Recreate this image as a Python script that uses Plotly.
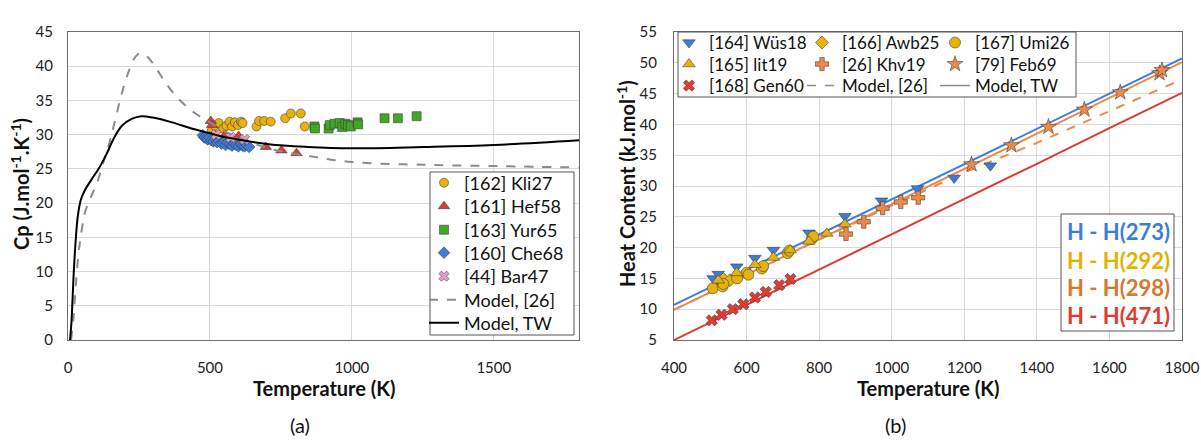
import plotly.graph_objects as go

W, H = 1201, 441
FONT = "Lato"

# ---------------- Panel (a) data ----------------
tw_T = [7, 12, 16, 20, 27, 34, 44, 57, 82, 109, 136, 163, 190, 224, 258, 299, 367, 435, 500, 571, 707, 844, 1000, 1252, 1500, 1800]
tw_cp = [0, 2.5, 5.9, 9.7, 14.5, 17.9, 20.3, 21.7, 23.4, 25.1, 27.2, 29.6, 31.3, 32.3, 32.7, 32.5, 31.8, 30.9, 30.2, 29.5, 28.6, 28.2, 28.0, 28.2, 28.5, 29.2]

m26_T = [11, 20, 27, 37, 48, 61, 82, 102, 122, 143, 163, 190, 218, 238, 256, 279, 306, 340, 381, 435, 500, 571, 707, 844, 1000, 1252, 1524, 1800]
m26_cp = [0, 3.5, 7.8, 12.6, 16.0, 18.8, 21.0, 22.9, 25.6, 28.4, 31.6, 36.1, 39.7, 41.4, 41.9, 41.4, 40.0, 37.8, 35.6, 33.5, 31.8, 30.1, 28.0, 26.9, 26.0, 25.6, 25.4, 25.2]

kli27_T = [506, 517, 531, 547, 558, 569, 578, 588, 599, 610, 615, 664, 673, 691, 714, 765, 785, 820, 834]
kli27_cp = [30.6, 31.3, 31.7, 30.9, 31.3, 31.9, 31.2, 31.8, 31.4, 31.9, 31.7, 31.2, 32.0, 32.0, 31.9, 32.4, 33.1, 33.1, 31.2]

hef58_T = [503, 507, 553, 601, 697, 752, 805]
hef58_cp = [32.0, 31.4, 29.9, 29.8, 28.2, 27.7, 27.3]

yur65_T = [868, 870, 918, 922, 939, 957, 966, 977, 986, 996, 1020, 1022, 1115, 1162, 1228]
yur65_cp = [31.2, 30.9, 30.9, 31.4, 31.6, 31.7, 31.1, 31.6, 31.4, 31.2, 31.8, 31.5, 32.4, 32.4, 32.7]

che68_T = [475, 480, 487, 492, 498, 505, 512, 518, 525, 532, 540, 548, 555, 562, 570, 578, 585, 592, 600, 608, 615, 622, 630, 638]
che68_cp = [29.9, 29.6, 29.5, 29.3, 29.6, 29.2, 29.0, 29.3, 28.9, 29.1, 28.7, 28.9, 28.5, 28.8, 28.6, 28.4, 28.7, 28.5, 28.3, 28.6, 28.4, 28.3, 28.5, 28.2]

bar47_T = [522, 573, 622]
bar47_cp = [30.0, 29.6, 29.3]

# ---------------- Panel (b) data ----------------
line_T = [400, 600, 800, 1000, 1200, 1400, 1600, 1800]
h273 = [10.7, 16.4, 22.1, 27.8, 33.5, 39.2, 44.9, 50.7]
h298 = [9.9, 15.6, 21.3, 27.1, 32.8, 38.5, 44.3, 50.1]
h298_m26 = [9.9, 15.6, 21.3, 26.8, 32.2, 37.0, 42.1, 47.3]
h471 = [5.0, 10.7, 16.5, 22.2, 27.9, 33.6, 39.4, 45.1]

wus18_T = [508, 522, 573, 623, 674, 772, 871, 972, 1071, 1172, 1272]
wus18_h = [15.0, 15.7, 16.9, 18.3, 19.6, 22.4, 25.1, 27.6, 29.6, 31.3, 33.3]

lit19_T = [522, 573, 623, 674, 720, 772, 821, 871]
lit19_h = [14.7, 15.9, 17.2, 18.4, 19.6, 21.0, 22.3, 23.8]

awb25_T = [536, 554]
awb25_h = [14.9, 14.7]

umi26_T = [507, 534, 536, 574, 600, 605, 642, 646, 713, 718, 779, 784]
umi26_h = [13.4, 13.7, 14.1, 15.0, 15.9, 15.6, 16.6, 17.0, 19.1, 19.5, 21.4, 21.8]

khv19_T = [874, 923, 975, 1025, 1073]
khv19_h = [22.2, 24.2, 26.4, 27.4, 28.1]

feb69_T = [1220, 1330, 1432, 1531, 1630, 1738, 1745]
feb69_h = [33.5, 36.6, 39.6, 42.4, 45.2, 48.3, 48.8]

gen60_T = [504, 531, 562, 591, 623, 653, 690, 721]
gen60_h = [8.2, 9.1, 10.0, 10.8, 11.9, 12.8, 13.9, 14.9]

box_labels = ["H - H(273)", "H - H(292)", "H - H(298)", "H - H(471)"]

# ---------------- colours ----------------
BLUE = "#3D7DD8"
GOLD = "#E8B10C"
ORANGE = "#EC8A48"
RED = "#DD3C33"
GREEN = "#3FA825"
PINK = "#E59AC9"
GRAY = "#8C8C8C"


def px_x(p):
    return p / W


def px_y(p):
    return 1 - p / H


fig = go.Figure()
legend_layout = {}
_leg_counter = [0]


def new_legend(text_x, center_y, size):
    """Single-entry legend whose text starts at text_x px and is centred at center_y px."""
    _leg_counter[0] += 1
    n = _leg_counter[0]
    lid = "legend" if n == 1 else "legend%d" % n
    legend_layout[lid] = dict(x=px_x(text_x - 40), y=px_y(center_y), xanchor="left", yanchor="middle",
                              bgcolor="rgba(0,0,0,0)", borderwidth=0, orientation="v",
                              font=dict(family=FONT, size=size, color="#111111"))
    return lid


def mk(color, symbol, size=9):
    return dict(color=color, symbol=symbol, size=size,
                line=dict(color="rgba(60,60,60,0.7)", width=0.8))


# ---- panel (a) traces (legend rows)
LA_X = 464
LA_Y = [183, 206.5, 230, 253, 276.5, 300, 323]
LA_SIZE = 18

fig.add_trace(go.Scatter(x=kli27_T, y=kli27_cp, mode="markers", name="[162] Kli27",
                         marker=mk(GOLD, "circle", 9), xaxis="x", yaxis="y",
                         legend=new_legend(LA_X, LA_Y[0], LA_SIZE)))
fig.add_trace(go.Scatter(x=hef58_T, y=hef58_cp, mode="markers", name="[161] Hef58",
                         marker=mk(RED, "triangle-up", 10), xaxis="x", yaxis="y",
                         legend=new_legend(LA_X, LA_Y[1], LA_SIZE)))
fig.add_trace(go.Scatter(x=yur65_T, y=yur65_cp, mode="markers", name="[163] Yur65",
                         marker=mk(GREEN, "square", 9), xaxis="x", yaxis="y",
                         legend=new_legend(LA_X, LA_Y[2], LA_SIZE)))
fig.add_trace(go.Scatter(x=che68_T, y=che68_cp, mode="markers", name="[160] Che68",
                         marker=mk(BLUE, "diamond", 9), xaxis="x", yaxis="y",
                         legend=new_legend(LA_X, LA_Y[3], LA_SIZE)))
fig.add_trace(go.Scatter(x=bar47_T, y=bar47_cp, mode="markers", name="[44] Bar47",
                         marker=mk(PINK, "x", 9), xaxis="x", yaxis="y",
                         legend=new_legend(LA_X, LA_Y[4], LA_SIZE)))
fig.add_trace(go.Scatter(x=m26_T, y=m26_cp, mode="lines", name="Model, [26]",
                         line=dict(color=GRAY, width=2, dash="dash", shape="spline"),
                         xaxis="x", yaxis="y", legend=new_legend(LA_X, LA_Y[5], LA_SIZE)))
fig.add_trace(go.Scatter(x=tw_T, y=tw_cp, mode="lines", name="Model, TW",
                         line=dict(color="black", width=2, shape="spline"),
                         xaxis="x", yaxis="y", legend=new_legend(LA_X, LA_Y[6], LA_SIZE)))

# ---- panel (b) lines
fig.add_trace(go.Scatter(x=line_T, y=h471, mode="lines", line=dict(color=RED, width=2),
                         showlegend=False, xaxis="x2", yaxis="y2"))
fig.add_trace(go.Scatter(x=line_T, y=h298_m26, mode="lines", line=dict(color=ORANGE, width=2, dash="dash"),
                         showlegend=False, xaxis="x2", yaxis="y2"))
fig.add_trace(go.Scatter(x=line_T, y=h273, mode="lines", line=dict(color=BLUE, width=2),
                         showlegend=False, xaxis="x2", yaxis="y2"))
fig.add_trace(go.Scatter(x=line_T, y=h298, mode="lines", line=dict(color=ORANGE, width=2),
                         showlegend=False, xaxis="x2", yaxis="y2"))

# ---- panel (b) markers (3 x 3 legend grid)
LB_X = [709, 842, 975]
LB_Y = [43, 64.5, 86]
LB_SIZE = 17

fig.add_trace(go.Scatter(x=wus18_T, y=wus18_h, mode="markers", name="[164] Wüs18",
                         marker=mk(BLUE, "triangle-down", 11), xaxis="x2", yaxis="y2",
                         legend=new_legend(LB_X[0], LB_Y[0], LB_SIZE)))
fig.add_trace(go.Scatter(x=awb25_T, y=awb25_h, mode="markers", name="[166] Awb25",
                         marker=mk(GOLD, "diamond", 10), xaxis="x2", yaxis="y2",
                         legend=new_legend(LB_X[1], LB_Y[0], LB_SIZE)))
fig.add_trace(go.Scatter(x=umi26_T, y=umi26_h, mode="markers", name="[167] Umi26",
                         marker=mk(GOLD, "circle", 11), xaxis="x2", yaxis="y2",
                         legend=new_legend(LB_X[2], LB_Y[0], LB_SIZE)))
fig.add_trace(go.Scatter(x=lit19_T, y=lit19_h, mode="markers", name="[165] lit19",
                         marker=mk(GOLD, "triangle-up", 11), xaxis="x2", yaxis="y2",
                         legend=new_legend(LB_X[0], LB_Y[1], LB_SIZE)))
fig.add_trace(go.Scatter(x=khv19_T, y=khv19_h, mode="markers", name="[26] Khv19",
                         marker=mk(ORANGE, "cross", 11), xaxis="x2", yaxis="y2",
                         legend=new_legend(LB_X[1], LB_Y[1], LB_SIZE)))
fig.add_trace(go.Scatter(x=feb69_T, y=feb69_h, mode="markers", name="[79] Feb69",
                         marker=mk(ORANGE, "star", 12), xaxis="x2", yaxis="y2",
                         legend=new_legend(LB_X[2], LB_Y[1], LB_SIZE)))
fig.add_trace(go.Scatter(x=gen60_T, y=gen60_h, mode="markers", name="[168] Gen60",
                         marker=mk(RED, "x", 10), xaxis="x2", yaxis="y2",
                         legend=new_legend(LB_X[0], LB_Y[2], LB_SIZE)))
fig.add_trace(go.Scatter(x=[None], y=[None], mode="lines", name="Model, [26]",
                         line=dict(color=GRAY, width=1.5, dash="dash"), xaxis="x2", yaxis="y2",
                         legend=new_legend(LB_X[1], LB_Y[2], LB_SIZE)))
fig.add_trace(go.Scatter(x=[None], y=[None], mode="lines", name="Model, TW",
                         line=dict(color=GRAY, width=1.5), xaxis="x2", yaxis="y2",
                         legend=new_legend(LB_X[2], LB_Y[2], LB_SIZE)))

GRID = "#D9D9D9"
FRAME = "#6E6E6E"
TICKF = dict(family=FONT, size=15, color="#222222")

axis_common = dict(showgrid=True, gridcolor=GRID, gridwidth=1, showline=True, linecolor=FRAME,
                   linewidth=1, mirror=True, zeroline=False, ticks="outside",
                   tickcolor="rgba(0,0,0,0)", tickfont=TICKF, automargin=False)

fig.update_layout(
    width=W, height=H, autosize=False,
    margin=dict(l=0, r=0, t=0, b=0, pad=0, autoexpand=False),
    paper_bgcolor="white", plot_bgcolor="white",
    font=dict(family=FONT, color="#111111"),
    xaxis=dict(domain=[px_x(68), px_x(579)], range=[0, 1800], tickvals=[0, 500, 1000, 1500],
               ticklen=14, anchor="y", **axis_common),
    yaxis=dict(domain=[px_y(340), px_y(32)], range=[0, 45], dtick=5, ticklen=11,
               anchor="x", **axis_common),
    xaxis2=dict(domain=[px_x(674), px_x(1182)], range=[400, 1800], dtick=200,
                ticklen=14, anchor="y2", **axis_common),
    yaxis2=dict(domain=[px_y(340), px_y(32)], range=[5, 55], dtick=5, ticklen=13,
                anchor="x2", **axis_common),
    **legend_layout,
)

shapes = [
    dict(type="rect", xref="paper", yref="paper", x0=px_x(430), x1=px_x(574), y0=px_y(335), y1=px_y(172),
         fillcolor="white", line=dict(color="#555555", width=1), layer="above"),
    dict(type="rect", xref="paper", yref="paper", x0=px_x(678), x1=px_x(1076), y0=px_y(97), y1=px_y(32),
         fillcolor="white", line=dict(color="#555555", width=1), layer="above"),
    dict(type="rect", xref="paper", yref="paper", x0=px_x(1061), x1=px_x(1174), y0=px_y(331), y1=px_y(214),
         fillcolor="white", line=dict(color="#555555", width=1), layer="above"),
]
fig.update_layout(shapes=shapes)

ann = []
box_colors = [BLUE, "#E6B000", "#D9772A", RED]
box_y = [232, 260, 287, 315]
for lab, c, yy in zip(box_labels, box_colors, box_y):
    ann.append(dict(text="<b>" + lab + "</b>", x=px_x(1118), y=px_y(yy), xref="paper", yref="paper",
                    xanchor="center", yanchor="middle", showarrow=False,
                    font=dict(family=FONT, size=22, color=c)))

title_font = dict(family=FONT, size=20, color="#111111")
ann += [
    dict(text="<b>Temperature (K)</b>", x=px_x(324), y=px_y(388), xref="paper", yref="paper",
         xanchor="center", yanchor="middle", showarrow=False, font=title_font),
    dict(text="<b>Temperature (K)</b>", x=px_x(929), y=px_y(388), xref="paper", yref="paper",
         xanchor="center", yanchor="middle", showarrow=False, font=title_font),
    dict(text="<b>Cp (J.mol<sup>-1</sup>.K<sup>-1</sup>)</b>", x=px_x(20), y=px_y(184), xref="paper", yref="paper",
         xanchor="center", yanchor="middle", showarrow=False, textangle=-90, font=title_font),
    dict(text="<b>Heat Content (kJ.mol<sup>-1</sup>)</b>", x=px_x(626), y=px_y(184), xref="paper", yref="paper",
         xanchor="center", yanchor="middle", showarrow=False, textangle=-90, font=title_font),
    dict(text="(a)", x=px_x(300), y=px_y(425), xref="paper", yref="paper",
         xanchor="center", yanchor="middle", showarrow=False, font=dict(family=FONT, size=20, color="#111111")),
    dict(text="(b)", x=px_x(895), y=px_y(425), xref="paper", yref="paper",
         xanchor="center", yanchor="middle", showarrow=False, font=dict(family=FONT, size=20, color="#111111")),
]
fig.update_layout(annotations=ann)

fig.write_html("out.html")
